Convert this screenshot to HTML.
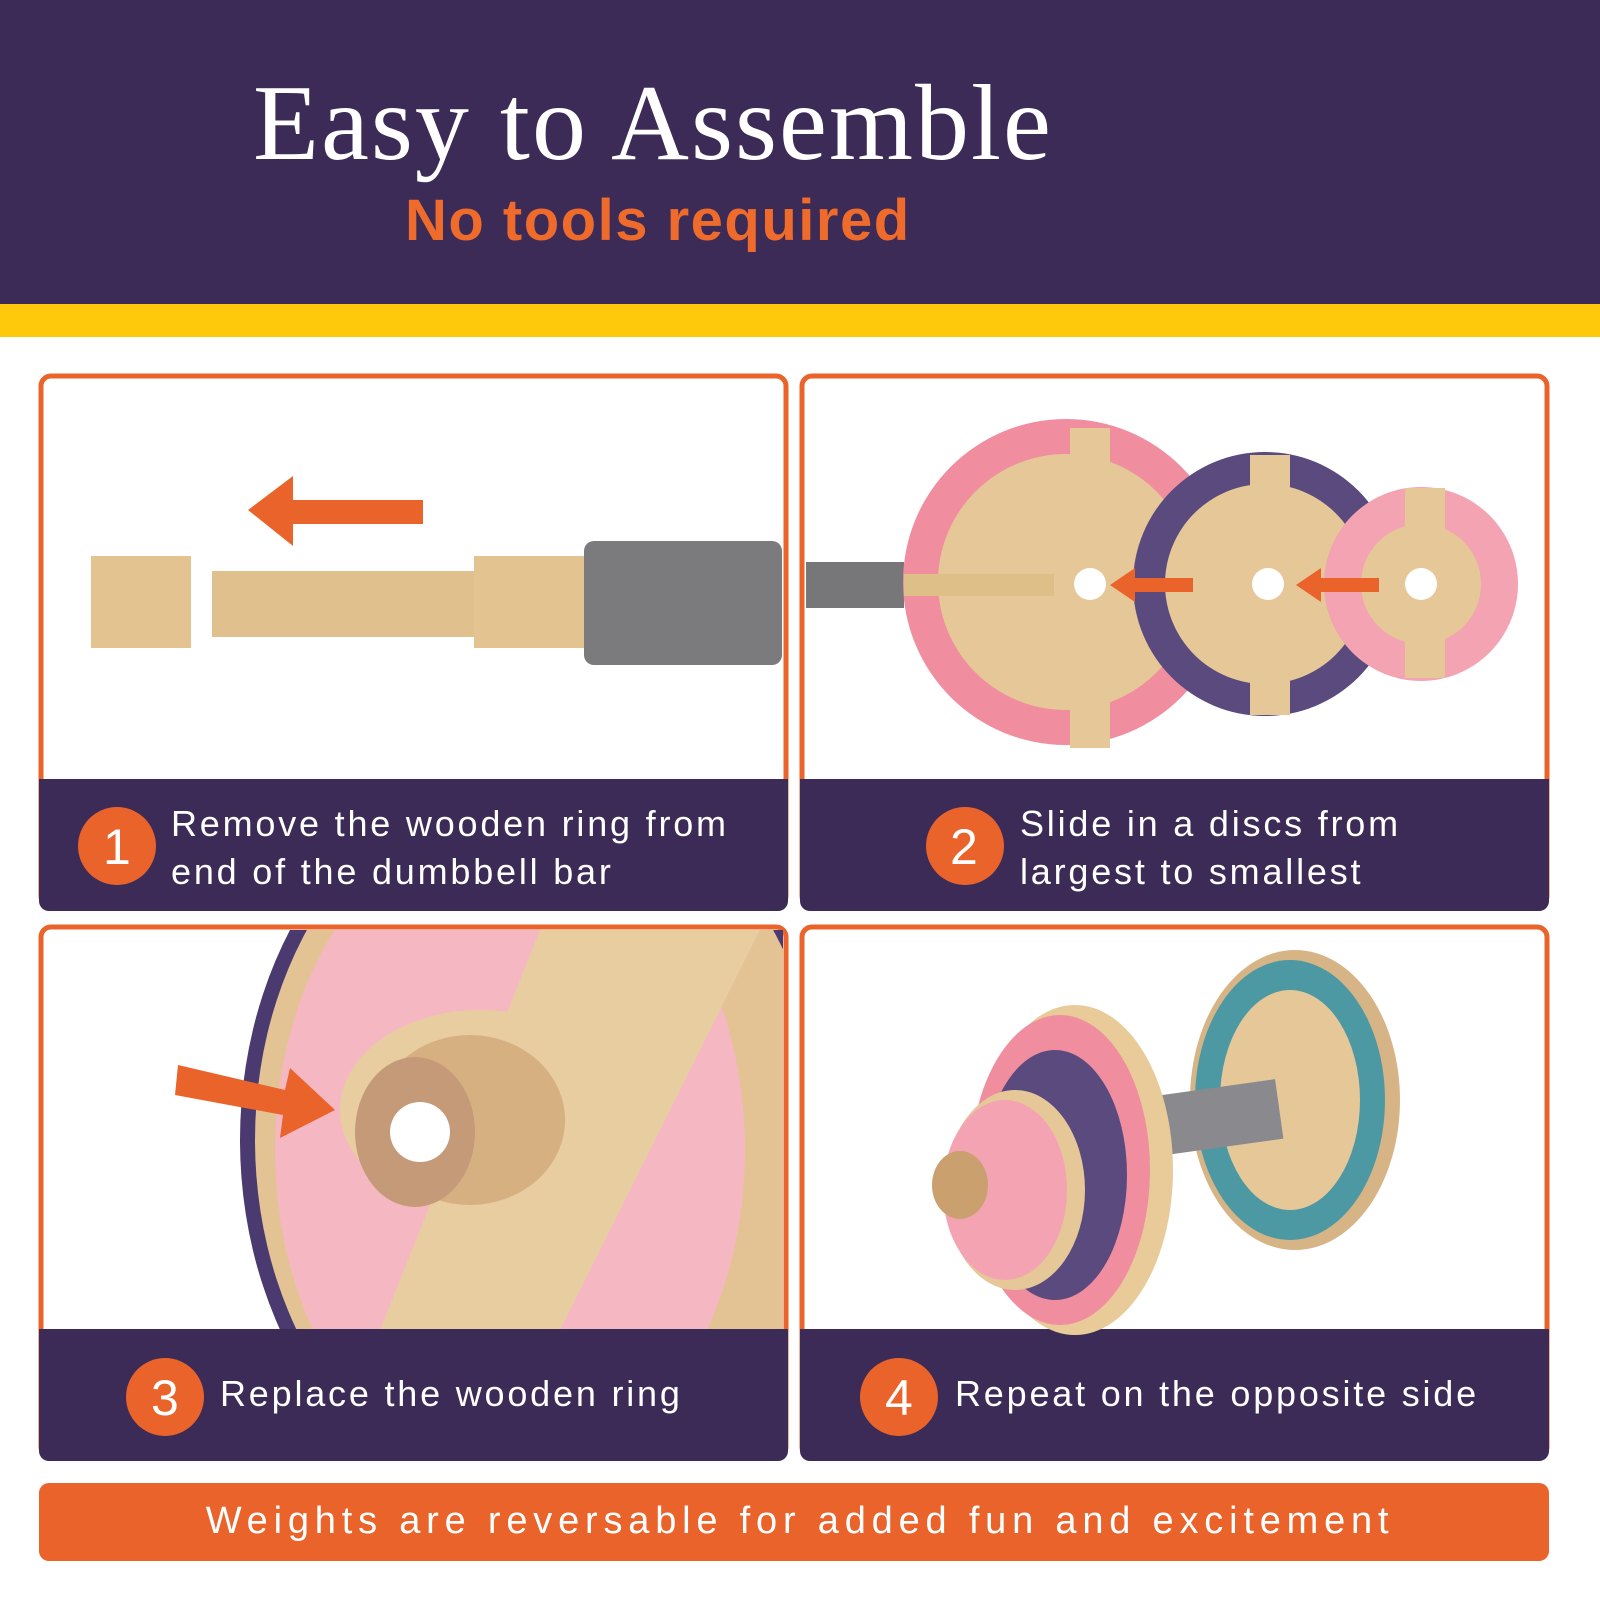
<!DOCTYPE html>
<html><head><meta charset="utf-8"><style>
body{margin:0;width:1600px;height:1600px;background:#fff;position:relative;overflow:hidden;font-family:"Liberation Sans",sans-serif}
.t{position:absolute;color:#fff;white-space:nowrap}
.c{letter-spacing:2.8px}
</style></head><body>
<svg width="1600" height="1600" style="position:absolute;left:0;top:0">
<rect x="0" y="0" width="1600" height="305" fill="#3c2a57"/>
<rect x="0" y="304" width="1600" height="33" fill="#fdc90a"/>
<g fill="#fff" stroke="#e9632a" stroke-width="5">
<rect x="41" y="376" width="745" height="530" rx="10"/>
<rect x="802" y="376" width="745" height="530" rx="10"/>
<rect x="41" y="927" width="745" height="530" rx="10"/>
<rect x="802" y="927" width="745" height="530" rx="10"/>
</g>
<g fill="#3c2a57">
<path d="M39 779H788V901a10 10 0 0 1-10 10H49a10 10 0 0 1-10-10Z"/>
<path d="M800 779H1549V901a10 10 0 0 1-10 10H810a10 10 0 0 1-10-10Z"/>
<path d="M39 1329H788V1451a10 10 0 0 1-10 10H49a10 10 0 0 1-10-10Z"/>
<path d="M800 1329H1549V1451a10 10 0 0 1-10 10H810a10 10 0 0 1-10-10Z"/>
</g>
<rect x="39" y="1483" width="1510" height="78" rx="10" fill="#e9632a"/>
<g fill="#e9632a"><circle cx="117" cy="846" r="39"/><circle cx="965" cy="846" r="39"/><circle cx="165" cy="1397" r="39"/><circle cx="899" cy="1397" r="39"/></g>
<rect x="91" y="556" width="100" height="92" fill="#e3c390"/>
<rect x="212" y="571" width="262" height="66" fill="#e0c08c"/>
<rect x="474" y="556" width="110" height="92" fill="#e3c390"/>
<rect x="584" y="541" width="198" height="124" rx="10" fill="#7b7b7d"/>
<path d="M248 510L293 476V500H423V524H293V546Z" fill="#e9632a"/>
<rect x="806" y="562" width="98" height="46" fill="#77777a"/>
<circle cx="1066" cy="582" r="163" fill="#f08ea0"/>
<circle cx="1066" cy="582" r="128" fill="#e5c798"/>
<rect x="1070" y="428" width="40" height="320" fill="#e5c798"/>
<rect x="904" y="574" width="150" height="22" fill="#dfbf88"/>
<circle cx="1090" cy="584" r="16" fill="#fff"/>
<circle cx="1265" cy="584" r="132" fill="#5a4a7e"/>
<circle cx="1265" cy="584" r="100" fill="#e5c798"/>
<rect x="1250" y="455" width="40" height="260" fill="#e5c798"/>
<circle cx="1268" cy="584" r="16" fill="#fff"/>
<circle cx="1421" cy="584" r="97" fill="#f4a3b2"/>
<circle cx="1421" cy="584" r="60" fill="#e5c798"/>
<rect x="1405" y="488" width="40" height="190" fill="#e5c798"/>
<circle cx="1421" cy="584" r="16" fill="#fff"/>
<path d="M1110 585L1135 568V578H1193V592H1135V602Z" fill="#e9632a"/>
<path d="M1296 585L1321 568V578H1379V592H1321V602Z" fill="#e9632a"/>
<clipPath id="c3"><rect x="44" y="930" width="739" height="399"/></clipPath>
<g clip-path="url(#c3)">
<ellipse cx="540" cy="1140" rx="300" ry="380" fill="#4a3a70"/>
<ellipse cx="540" cy="1140" rx="285" ry="365" fill="#e3c393"/>
<ellipse cx="510" cy="1150" rx="235" ry="330" fill="#f5b8c2"/>
<path d="M540 930L760 930L560 1330L380 1330Z" fill="#e8cda0"/>
<ellipse cx="480" cy="1110" rx="140" ry="100" fill="#e8cda0"/>
<ellipse cx="470" cy="1120" rx="95" ry="85" fill="#d7b082"/>
<ellipse cx="415" cy="1132" rx="60" ry="75" fill="#c49a78"/>
<circle cx="420" cy="1132" r="30" fill="#fff"/>
<path d="M178 1065L285 1090L290 1068L335 1110L280 1138L283 1115L175 1095Z" fill="#e9632a"/>
</g>
<ellipse cx="1295" cy="1100" rx="105" ry="150" fill="#d7b485"/>
<ellipse cx="1290" cy="1100" rx="95" ry="140" fill="#4c99a4"/>
<ellipse cx="1290" cy="1100" rx="70" ry="110" fill="#e5c798"/>
<rect x="1140" y="1090" width="140" height="60" fill="#8a8a8e" transform="rotate(-8 1200 1120)"/>
<ellipse cx="1075" cy="1170" rx="98" ry="165" fill="#e8cb98"/>
<ellipse cx="1060" cy="1170" rx="90" ry="155" fill="#f08ea0"/>
<ellipse cx="1055" cy="1175" rx="72" ry="125" fill="#5a4a7e"/>
<ellipse cx="1015" cy="1190" rx="70" ry="100" fill="#e5c798"/>
<ellipse cx="1005" cy="1190" rx="62" ry="90" fill="#f4a3b2"/>
<ellipse cx="960" cy="1185" rx="28" ry="34" fill="#c9a06e"/>
</svg>
<div class="t" style="left:253px;top:62px;font:108px 'Liberation Serif',serif;letter-spacing:2px">Easy to Assemble</div>
<div class="t" style="left:405px;top:187px;font:bold 58px 'Liberation Sans',sans-serif;color:#ef6b2b;letter-spacing:1.5px">No tools required</div>
<div class="t" style="left:103px;top:818px;font:50px 'Liberation Sans'">1</div>
<div class="t c" style="left:171px;top:800px;font:36px/48px 'Liberation Sans'">Remove the wooden ring from<br>end of the dumbbell bar</div>
<div class="t" style="left:950px;top:818px;font:50px 'Liberation Sans'">2</div>
<div class="t c" style="left:1020px;top:800px;font:36px/48px 'Liberation Sans'">Slide in a discs from<br>largest to smallest</div>
<div class="t" style="left:151px;top:1369px;font:50px 'Liberation Sans'">3</div>
<div class="t c" style="left:220px;top:1373px;font:36px 'Liberation Sans'">Replace the wooden ring</div>
<div class="t" style="left:885px;top:1369px;font:50px 'Liberation Sans'">4</div>
<div class="t c" style="left:955px;top:1373px;font:36px 'Liberation Sans'">Repeat on the opposite side</div>
<div class="t" style="left:0;width:1600px;text-align:center;top:1500px;font:38px 'Liberation Sans';letter-spacing:5.8px">Weights are reversable for added fun and excitement</div>
</body></html>
